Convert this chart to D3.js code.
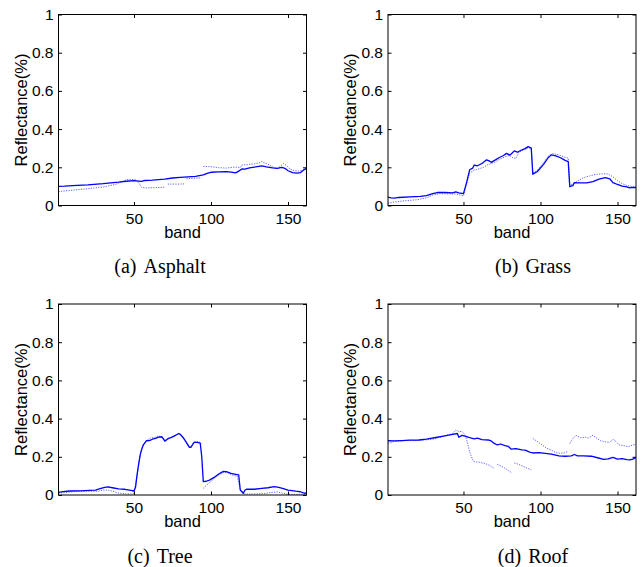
<!DOCTYPE html>
<html>
<head>
<meta charset="utf-8">
<script src="https://cdn.jsdelivr.net/npm/d3@7"></script>
<style>
html,body{margin:0;padding:0;background:#fff;}
svg{display:block;}
</style>
</head>
<body>
<svg id="chart" width="643" height="567"></svg>
<script>
// ---- data: [band, reflectance]; null marks a gap ----
const xTicks = [50, 100, 150];
const yTicks = [0, 0.2, 0.4, 0.6, 0.8, 1];
const captions = ["(a)|Asphalt", "(b)|Grass", "(c)|Tree", "(d)|Roof"];

const asphaltSolid = [[1,0.100],[5,0.101],[10,0.104],[20,0.108],[30,0.114],[40,0.122],[45,0.127],[50,0.130],[53,0.128],[55,0.126],[57,0.131],[62,0.133],[70,0.138],[75,0.144],[80,0.147],[85,0.150],[90,0.153],[95,0.160],[98,0.170],[100,0.174],[105,0.176],[110,0.177],[113,0.175],[116,0.171],[118,0.180],[120,0.191],[122,0.190],[125,0.197],[130,0.203],[133,0.207],[136,0.202],[140,0.197],[143,0.194],[146,0.200],[148,0.195],[150,0.182],[153,0.172],[156,0.170],[158,0.172],[160,0.185],[162,0.195]];
const asphaltDot = [[1,0.073],[10,0.080],[20,0.088],[30,0.097],[38,0.110],[42,0.125],[45,0.135],[48,0.137],[51,0.135],[53,0.120],[55,0.095],[58,0.092],[65,0.094],[70,0.096],[71,null],[72,0.112],[78,0.112],[83,0.113],[83.5,null],[84,0.140],[88,0.142],[94,0.145],[94.5,null],[95,0.205],[100,0.203],[105,0.198],[110,0.196],[114,0.200],[117,0.201],[119,0.198],[120,0.212],[124,0.214],[128,0.218],[131,0.222],[133,0.230],[135,0.222],[138,0.212],[141,0.198],[143,0.194],[145,0.205],[147,0.220],[149,0.210],[151,0.192],[154,0.183],[157,0.180],[160,0.185],[162,0.190]];

const grassSolid = [[1,0.044],[3,0.040],[5,0.039],[8,0.042],[15,0.045],[22,0.048],[26,0.052],[30,0.062],[33,0.068],[38,0.068],[43,0.066],[45,0.071],[47,0.066],[50,0.062],[52,0.120],[54,0.187],[56,0.196],[57,0.212],[59,0.208],[62,0.220],[65,0.239],[67,0.232],[68,0.226],[71,0.240],[73,0.250],[76,0.262],[78,0.273],[80,0.264],[81,0.270],[83,0.286],[85,0.279],[87,0.288],[90,0.298],[92,0.308],[94,0.300],[95,0.164],[98,0.178],[102,0.215],[105,0.250],[107,0.265],[110,0.260],[113,0.250],[116,0.236],[118,0.230],[119,0.099],[121,0.104],[122,0.120],[125,0.118],[130,0.118],[134,0.125],[138,0.138],[142,0.146],[145,0.140],[147,0.120],[150,0.110],[153,0.102],[156,0.098],[158,0.092],[160,0.095],[162,0.094]];
const grassDot = [[1,0.012],[5,0.018],[12,0.025],[20,0.030],[26,0.040],[30,0.055],[35,0.062],[40,0.061],[45,0.060],[48,0.055],[50,0.050],[52,0.110],[54,0.170],[57,0.185],[60,0.192],[63,0.200],[66,0.215],[70,0.225],[73,0.240],[77,0.255],[80,0.262],[82,0.250],[84,0.246],[86,0.280],[89,0.290],[92,0.303],[94,0.300],[95,0.170],[98,0.185],[102,0.225],[105,0.258],[108,0.272],[112,0.265],[115,0.255],[118,0.248],[119,0.108],[121,0.112],[124,0.128],[128,0.146],[132,0.155],[136,0.163],[141,0.166],[144,0.165],[147,0.150],[150,0.130],[153,0.115],[156,0.105],[159,0.100],[162,0.100]];

const treeSolid = [[1,0.014],[4,0.018],[8,0.021],[15,0.022],[21,0.024],[25,0.026],[28,0.033],[31,0.040],[33,0.042],[36,0.038],[40,0.032],[44,0.030],[48,0.024],[50,0.021],[51,0.040],[52,0.105],[53,0.160],[54,0.209],[55,0.240],[56,0.261],[58,0.284],[60,0.285],[62,0.292],[64,0.296],[66,0.303],[68,0.305],[69,0.295],[70,0.282],[72,0.295],[74,0.300],[76,0.308],[78,0.317],[79,0.322],[80,0.318],[82,0.300],[84,0.275],[86,0.249],[87,0.250],[89,0.276],[91,0.276],[93,0.272],[94,0.200],[95,0.070],[97,0.072],[99,0.078],[102,0.092],[105,0.110],[108,0.124],[110,0.122],[113,0.113],[116,0.108],[118,0.105],[119,0.026],[121,0.009],[122,0.025],[123,0.030],[128,0.030],[133,0.035],[137,0.038],[141,0.044],[144,0.040],[147,0.033],[150,0.026],[155,0.020],[158,0.017],[161,0.009],[162,0.012]];
const treeDot = [[1,0.009],[8,0.015],[15,0.020],[22,0.020],[27,0.020],[30,0.026],[33,0.026],[36,0.020],[40,0.010],[45,0.006],[49,0.005],[50,0.010],[52,0.100],[54,0.205],[56,0.265],[58,0.285],[61,0.300],[63,0.300],[66,0.310],[69,0.296],[71,0.286],[74,0.302],[78,0.318],[80,0.320],[82,0.298],[85,0.258],[87,0.252],[89,0.278],[92,0.280],[94,0.270],[94.5,null],[95,0.035],[98,0.058],[102,0.086],[105,0.104],[108,0.118],[111,0.116],[114,0.104],[117,0.098],[119,0.030],[121,0.005],[125,0.005],[130,0.006],[135,0.008],[140,0.014],[143,0.016],[146,0.010],[150,0.004],[155,0.003],[160,0.004],[162,0.006]];

const roofSolid = [[1,0.284],[5,0.283],[10,0.285],[15,0.287],[21,0.288],[26,0.292],[32,0.301],[37,0.308],[43,0.317],[46,0.322],[47,0.302],[49,0.312],[51,0.308],[54,0.300],[57,0.294],[59,0.298],[62,0.290],[66,0.288],[68,0.283],[70,0.270],[72,0.262],[74,0.267],[77,0.258],[79,0.255],[81,0.240],[84,0.243],[88,0.236],[90,0.235],[93,0.225],[95,0.220],[99,0.222],[103,0.218],[107,0.214],[112,0.205],[116,0.203],[120,0.205],[122,0.212],[124,0.205],[128,0.205],[133,0.203],[137,0.195],[141,0.187],[144,0.189],[147,0.197],[150,0.188],[153,0.190],[156,0.185],[158,0.184],[160,0.188],[162,0.197]];
const roofDot = [[1,0.270],[5,0.280],[10,0.284],[15,0.286],[20,0.285],[25,0.288],[30,0.292],[35,0.302],[40,0.315],[43,0.322],[45,0.340],[47,0.332],[49,0.334],[51,0.315],[52,0.290],[53,0.261],[54,0.226],[56,0.183],[57,0.174],[60,0.172],[64,0.165],[67,0.155],[70,0.139],[71,null],[72,0.160],[76,0.145],[79,0.130],[81,0.118],[82,null],[83,0.168],[86,0.160],[90,0.145],[94,0.132],[94.5,null],[95,0.296],[98,0.280],[101,0.262],[104,0.245],[107,0.235],[110,0.222],[113,0.218],[116,0.222],[118,0.228],[118.5,null],[119,0.270],[121,0.295],[123,0.312],[126,0.300],[129,0.303],[131,0.298],[134,0.313],[136,0.300],[139,0.284],[142,0.278],[145,0.276],[147,0.292],[149,0.280],[151,0.262],[154,0.258],[157,0.253],[160,0.262],[162,0.266]];

const panelSolid = [asphaltSolid, grassSolid, treeSolid, roofSolid];
const panelDot = [asphaltDot, grassDot, treeDot, roofDot];

// ---- layout ----
const colX = [[58.5, 306.5], [388, 636]];
const rowY = [[14.5, 205.5], [304, 495]];
const captionCX = [160, 533];
const svg = d3.select("#chart");

panelSolid.forEach((solid, i) => {
  const col = i % 2, row = Math.floor(i / 2);
  const [x0, x1] = colX[col];
  const [y0, y1] = rowY[row];
  const x = d3.scaleLinear().domain([1, 162]).range([x0, x1]);
  const y = d3.scaleLinear().domain([0, 1]).range([y1, y0]);
  const g = svg.append("g");

  const line = d3.line().defined(d => d[1] != null).x(d => x(d[0])).y(d => y(d[1]));

  g.append("path").datum(panelDot[i]).attr("d", line)
    .attr("fill", "none").attr("stroke", "#3a3aff").attr("stroke-width", 1)
    .attr("stroke-dasharray", "1.2,1.3").attr("stroke-opacity", 0.8);
  g.append("path").datum(solid).attr("d", line)
    .attr("fill", "none").attr("stroke", "#0000ff").attr("stroke-width", 1.3)
    .attr("stroke-linejoin", "round");

  const font = "'Liberation Sans', Arial, Helvetica, sans-serif";
  const bottom = g.append("g").attr("transform", `translate(0,${y1})`)
    .call(d3.axisBottom(x).tickValues(xTicks).tickSizeInner(-3.5).tickSizeOuter(0).tickPadding(7));
  const left = g.append("g").attr("transform", `translate(${x0},0)`)
    .call(d3.axisLeft(y).tickValues(yTicks).tickFormat(d3.format("~g")).tickSizeInner(-3.5).tickSizeOuter(0).tickPadding(5));
  const top = g.append("g").attr("transform", `translate(0,${y0})`)
    .call(d3.axisTop(x).tickValues(xTicks).tickFormat("").tickSizeInner(-3.5).tickSizeOuter(0));
  const right = g.append("g").attr("transform", `translate(${x1},0)`)
    .call(d3.axisRight(y).tickValues(yTicks).tickFormat("").tickSizeInner(-3.5).tickSizeOuter(0));
  [bottom, left, top, right].forEach(a => {
    a.select(".domain").remove();
    a.selectAll("line").attr("stroke", "#000").attr("stroke-width", 1);
    a.selectAll("text").attr("fill", "#000").style("font-family", font).style("font-size", "15.5px");
  });

  g.append("rect").attr("x", x0).attr("y", y0).attr("width", x1 - x0).attr("height", y1 - y0)
    .attr("fill", "none").attr("stroke", "#000").attr("stroke-width", 1);

  g.append("text").attr("x", (x0 + x1) / 2).attr("y", y1 + 32)
    .attr("text-anchor", "middle").style("font-family", font).style("font-size", "16.5px")
    .text("band");
  g.append("text").attr("transform", `translate(${x0 - 32},${(y0 + y1) / 2}) rotate(-90)`)
    .attr("text-anchor", "middle").style("font-family", font).style("font-size", "16.5px")
    .text("Reflectance(%)");

  const [lab, name] = captions[i].split("|");
  const cap = g.append("text").attr("x", captionCX[col]).attr("y", y1 + 67.5)
    .attr("text-anchor", "middle").style("font-family", "'Liberation Serif', 'Times New Roman', serif")
    .style("font-size", "20px");
  cap.append("tspan").text(lab);
  cap.append("tspan").attr("dx", 7).text(name);
});
</script>
</body>
</html>
